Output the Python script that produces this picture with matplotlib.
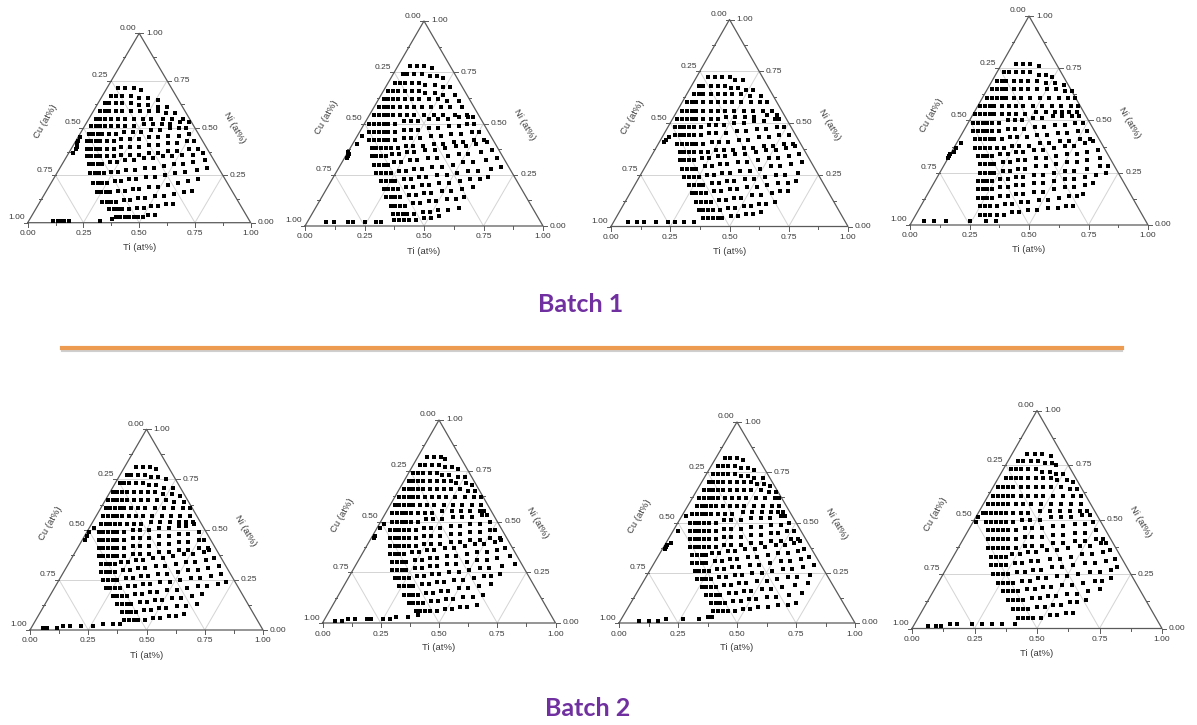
import numpy as np
import matplotlib.pyplot as plt
from matplotlib.lines import Line2D

plt.rcParams['font.family'] = ['Liberation Sans', 'DejaVu Sans']

# --- compositions (at%): rows of ([Ti ...], [Ni ...]),
# --- points sitting on the Cu-Ni edge and points along the Cu-Ti base, as (Ti, Ni)

p1_rows = [
    ([5, 8, 12, 16], [71, 71, 71, 70]),
    ([4, 6, 9, 13, 17, 21, 26], [67, 67, 67, 67, 66, 66, 65]),
    ([3, 5, 8, 11, 15, 19, 23, 28, 32], [63, 63, 63, 63, 63, 62, 62, 61, 61]),
    ([3, 5, 7, 10, 13, 17, 21, 25, 29, 33, 37], [59, 59, 59, 59, 59, 59, 59, 59, 59, 58, 58]),
    ([3, 5, 7, 10, 13, 16, 20, 24, 28, 33, 37, 42], [55, 55, 55, 55, 55, 55, 55, 55, 55, 55, 55, 55]),
    ([3, 5, 7, 9, 12, 15, 18, 22, 26, 30, 34, 38, 42, 46], [51, 51, 51, 51, 51, 51, 51, 51, 52, 52, 52, 52, 53, 53]),
    ([4, 6, 8, 10, 13, 16, 19, 23, 27, 31, 35, 39, 43, 46], [47, 47, 47, 47, 47, 47, 48, 48, 48, 49, 49, 50, 50, 50]),
    ([5, 7, 9, 11, 14, 17, 20, 24, 28, 32, 36, 40, 45, 49], [43, 43, 43, 43, 43, 43, 44, 44, 44, 45, 45, 46, 46, 47]),
    ([7, 9, 11, 13, 16, 19, 22, 26, 30, 34, 38, 42, 46, 50, 53], [39, 39, 39, 39, 39, 39, 40, 40, 40, 41, 41, 42, 42, 43, 43]),
    ([9, 11, 13, 15, 18, 21, 24, 28, 32, 36, 40, 44, 48, 53, 57], [35, 35, 35, 35, 35, 35, 36, 36, 36, 37, 37, 38, 38, 39, 39]),
    ([12, 14, 16, 18, 21, 24, 27, 31, 35, 39, 43, 47, 51, 56, 60], [31, 31, 31, 31, 32, 32, 33, 33, 34, 34, 35, 35, 36, 36, 37]),
    ([15, 17, 19, 21, 24, 27, 30, 34, 38, 42, 46, 50, 54, 58, 63], [26, 26, 26, 26, 27, 27, 28, 28, 29, 29, 30, 31, 31, 32, 33]),
    ([19, 21, 23, 25, 28, 31, 34, 37, 41, 45, 49, 53, 57, 62, 66], [21, 21, 21, 21, 22, 22, 23, 23, 24, 24, 25, 26, 27, 28, 29]),
    ([23, 25, 27, 29, 32, 35, 38, 41, 45, 49, 53, 57, 61, 65], [16, 16, 16, 16, 17, 17, 18, 18, 19, 19, 20, 21, 22, 23]),
    ([28, 30, 32, 34, 37, 40, 43, 46, 50, 54, 58, 62, 65], [11, 11, 11, 11, 12, 12, 13, 13, 14, 14, 15, 16, 17]),
    ([33, 35, 37, 39, 42, 45, 48, 51, 54, 57, 60], [7, 7, 7, 7, 7, 8, 8, 9, 9, 10, 10]),
    ([38, 40, 42, 44, 46, 48, 50, 52, 55], [3, 3, 3, 3, 3, 3, 3, 4, 4]),
]
p1_edge = [(2, 37), (2, 39), (2, 40), (1, 42), (1, 43), (1, 45)]
p1_base = [(11, 1), (13, 1), (15, 1), (16, 1), (18, 1), (32, 1), (37, 2)]

p2_rows = [
    ([5, 8, 11, 15], [78, 78, 78, 77]),
    ([4, 6, 9, 12, 16, 19, 22], [74, 74, 74, 74, 73, 73, 72]),
    ([3, 5, 7, 10, 13, 16, 20, 24, 27], [70, 70, 70, 70, 70, 69, 69, 68, 68]),
    ([2, 4, 6, 9, 12, 15, 18, 22, 26, 31], [66, 66, 66, 66, 66, 66, 65, 65, 64, 64]),
    ([2, 4, 6, 8, 11, 14, 17, 21, 25, 29, 34], [62, 62, 62, 62, 62, 62, 62, 62, 62, 61, 61]),
    ([2, 4, 6, 8, 11, 14, 17, 20, 24, 28, 32, 37], [58, 58, 58, 58, 58, 58, 58, 58, 58, 58, 58, 58]),
    ([2, 4, 6, 8, 10, 13, 16, 19, 23, 27, 31, 36, 41], [54, 54, 54, 54, 54, 54, 54, 54, 54, 54, 54, 54, 54]),
    ([2, 4, 6, 8, 10, 13, 16, 19, 22, 26, 30, 34, 38, 42, 44], [50, 50, 50, 50, 50, 50, 51, 51, 51, 52, 52, 52, 53, 53, 53]),
    ([4, 6, 8, 10, 12, 15, 18, 21, 24, 28, 32, 36, 40, 43, 46], [46, 46, 46, 46, 46, 46, 47, 47, 47, 48, 48, 49, 49, 50, 50]),
    ([6, 8, 10, 12, 14, 17, 20, 23, 27, 31, 35, 39, 43, 47, 50], [42, 42, 42, 42, 42, 42, 43, 43, 43, 44, 44, 45, 45, 46, 46]),
    ([9, 11, 13, 15, 17, 20, 23, 26, 30, 34, 38, 42, 46, 50, 54], [38, 38, 38, 38, 38, 38, 39, 39, 39, 40, 40, 41, 41, 42, 42]),
    ([11, 13, 15, 17, 19, 22, 25, 28, 32, 36, 40, 44, 48, 52, 56], [34, 34, 34, 34, 35, 35, 36, 36, 37, 37, 38, 39, 39, 40, 41]),
    ([14, 16, 18, 20, 22, 25, 28, 31, 35, 39, 43, 47, 51, 56, 60], [30, 30, 30, 30, 31, 31, 32, 32, 33, 33, 34, 35, 35, 36, 37]),
    ([17, 19, 21, 23, 26, 29, 32, 35, 39, 43, 47, 51, 55, 60, 64], [26, 26, 26, 26, 27, 27, 28, 28, 29, 29, 30, 31, 31, 32, 33]),
    ([21, 23, 25, 27, 30, 33, 36, 39, 43, 47, 51, 55, 59, 64, 68], [22, 22, 22, 22, 23, 23, 24, 24, 25, 25, 26, 27, 27, 28, 29]),
    ([24, 26, 28, 30, 33, 36, 39, 42, 46, 50, 54, 58, 62, 65], [18, 18, 18, 18, 19, 19, 20, 20, 21, 21, 22, 23, 23, 24]),
    ([27, 29, 31, 33, 36, 39, 42, 45, 49, 53, 57, 61], [14, 14, 14, 14, 15, 15, 16, 16, 17, 17, 18, 19]),
    ([31, 33, 35, 37, 40, 43, 46, 49, 53, 57, 60], [10, 10, 10, 10, 11, 11, 12, 12, 13, 13, 14]),
    ([34, 36, 38, 40, 43, 46, 49, 52, 56, 60], [6, 6, 6, 6, 6, 7, 7, 8, 8, 9]),
    ([36, 38, 40, 42, 45, 48, 51, 54], [3, 3, 3, 3, 3, 4, 4, 5]),
]
p2_edge = [(1, 33), (1, 34), (1, 35), (0, 36), (2, 40), (2, 44)]
p2_base = [(8, 2), (11, 2), (17, 2), (19, 2), (24, 2), (29, 2), (31, 2)]

p3_rows = [
    ([5, 8, 11, 14, 17, 20], [72, 72, 72, 72, 71, 71]),
    ([3, 5, 8, 11, 14, 17, 20, 24, 27], [68, 68, 68, 68, 68, 67, 67, 66, 66]),
    ([3, 5, 7, 10, 13, 16, 19, 23, 27, 32], [64, 64, 64, 64, 64, 64, 64, 64, 63, 63]),
    ([2, 4, 6, 9, 12, 15, 18, 21, 25, 29, 33, 36], [60, 60, 60, 60, 60, 60, 60, 60, 60, 60, 60, 60]),
    ([2, 4, 6, 8, 11, 14, 17, 20, 24, 28, 32, 36, 40], [56, 56, 56, 56, 56, 56, 56, 56, 56, 56, 56, 56, 56]),
    ([2, 4, 6, 8, 10, 13, 16, 19, 22, 26, 30, 34, 39, 43], [52, 52, 52, 52, 52, 52, 52, 52, 53, 53, 53, 53, 54, 54]),
    ([3, 5, 7, 9, 11, 14, 17, 20, 23, 27, 31, 35, 39, 43, 45], [48, 48, 48, 48, 48, 48, 49, 49, 49, 50, 50, 51, 51, 52, 52]),
    ([5, 7, 9, 11, 13, 16, 19, 22, 26, 30, 34, 38, 42, 46, 49], [44, 44, 44, 44, 44, 44, 45, 45, 45, 46, 46, 47, 47, 48, 48]),
    ([8, 10, 12, 14, 16, 19, 22, 25, 29, 33, 37, 41, 45, 49, 53], [40, 40, 40, 40, 40, 40, 41, 41, 41, 42, 42, 43, 43, 44, 44]),
    ([11, 13, 15, 17, 20, 23, 26, 29, 33, 37, 41, 45, 49, 53, 57], [36, 36, 36, 36, 36, 36, 37, 37, 37, 38, 38, 39, 39, 40, 40]),
    ([13, 15, 17, 19, 22, 25, 28, 31, 35, 39, 43, 47, 51, 55, 58], [32, 32, 32, 32, 33, 33, 34, 34, 35, 35, 36, 37, 37, 38, 39]),
    ([16, 18, 20, 22, 25, 28, 31, 34, 38, 42, 46, 50, 54, 58, 62], [28, 28, 28, 28, 29, 29, 30, 30, 31, 31, 32, 33, 33, 34, 35]),
    ([19, 21, 23, 25, 28, 31, 34, 37, 41, 45, 49, 53, 57, 61, 65], [24, 24, 24, 24, 25, 25, 26, 26, 27, 27, 28, 29, 29, 30, 31]),
    ([23, 25, 27, 29, 32, 35, 38, 41, 45, 49, 53, 57, 61, 66], [20, 20, 20, 20, 21, 21, 22, 22, 23, 23, 24, 25, 25, 26]),
    ([26, 28, 30, 32, 35, 38, 41, 44, 48, 52, 56, 60, 64, 67], [16, 16, 16, 16, 17, 17, 18, 18, 19, 19, 20, 21, 21, 22]),
    ([30, 32, 34, 36, 39, 42, 45, 48, 52, 56, 60, 63, 66], [12, 12, 12, 12, 13, 13, 14, 14, 15, 15, 16, 17, 17]),
    ([33, 35, 37, 39, 42, 45, 48, 51, 54, 57, 60, 63], [8, 8, 8, 8, 8, 9, 9, 10, 10, 11, 11, 12]),
    ([37, 39, 41, 43, 45, 48, 51, 54, 57, 60], [4, 4, 4, 4, 4, 5, 5, 6, 6, 7]),
]
p3_edge = [(2, 41), (2, 42), (3, 43)]
p3_base = [(6, 2), (10, 2), (13, 2), (18, 2), (23, 2), (26, 2), (30, 2), (34, 2)]

p4_rows = [
    ([6, 9, 12, 16], [77, 77, 77, 76]),
    ([3, 5, 8, 11, 14, 18, 21, 24], [73, 73, 73, 73, 73, 72, 72, 71]),
    ([2, 4, 6, 9, 12, 15, 19, 23, 27, 31], [69, 69, 69, 69, 69, 69, 69, 68, 68, 67]),
    ([2, 4, 6, 8, 11, 14, 17, 21, 25, 29, 33, 36], [65, 65, 65, 65, 65, 65, 65, 65, 65, 65, 64, 64]),
    ([2, 4, 6, 8, 10, 13, 16, 20, 24, 28, 32, 36, 39], [61, 61, 61, 61, 61, 61, 61, 61, 61, 61, 61, 61, 61]),
    ([1, 3, 5, 7, 10, 13, 16, 19, 23, 27, 31, 35, 39, 42], [57, 57, 57, 57, 57, 57, 57, 57, 57, 57, 57, 57, 57, 57]),
    ([1, 3, 5, 7, 9, 12, 15, 18, 22, 26, 30, 34, 37, 40, 43], [53, 53, 53, 53, 53, 53, 53, 53, 53, 54, 54, 54, 54, 54, 54]),
    ([2, 4, 6, 8, 10, 13, 16, 19, 22, 26, 30, 34, 38, 42, 45], [49, 49, 49, 49, 49, 49, 50, 50, 50, 51, 51, 52, 52, 52, 52]),
    ([4, 6, 8, 10, 12, 15, 18, 21, 25, 29, 33, 37, 41, 45, 48], [45, 45, 45, 45, 45, 45, 46, 46, 46, 47, 47, 48, 48, 49, 49]),
    ([7, 9, 11, 13, 15, 18, 21, 24, 28, 32, 36, 40, 44, 48, 52], [41, 41, 41, 41, 41, 41, 42, 42, 42, 43, 43, 44, 44, 45, 45]),
    ([9, 11, 13, 15, 18, 21, 24, 27, 31, 35, 39, 43, 47, 51, 55], [37, 37, 37, 37, 37, 37, 38, 38, 38, 39, 39, 40, 40, 41, 41]),
    ([12, 14, 16, 18, 21, 24, 27, 30, 34, 38, 42, 46, 50, 54, 57], [33, 33, 33, 33, 34, 34, 35, 35, 36, 36, 37, 38, 38, 39, 40]),
    ([15, 17, 19, 21, 24, 27, 30, 33, 37, 41, 45, 49, 53, 57, 61], [29, 29, 29, 29, 30, 30, 31, 31, 32, 32, 33, 34, 34, 35, 36]),
    ([17, 19, 21, 23, 26, 29, 32, 35, 39, 43, 47, 51, 55, 59, 64], [25, 25, 25, 25, 26, 26, 27, 27, 28, 28, 29, 30, 30, 31, 32]),
    ([18, 20, 22, 24, 27, 30, 33, 36, 40, 44, 48, 52, 56, 61, 66, 69], [21, 21, 21, 21, 22, 22, 23, 23, 24, 24, 25, 26, 26, 27, 28, 28]),
    ([20, 22, 24, 26, 29, 32, 35, 38, 42, 46, 50, 54, 58, 62, 66, 70], [17, 17, 17, 17, 18, 18, 19, 19, 20, 20, 21, 22, 22, 23, 24, 25]),
    ([22, 24, 26, 28, 31, 34, 37, 40, 44, 48, 52, 56, 60, 64, 67], [13, 13, 13, 13, 14, 14, 15, 15, 16, 16, 17, 18, 18, 19, 20]),
    ([25, 27, 29, 32, 35, 38, 41, 44, 48, 52, 56, 60, 63, 65], [9, 9, 9, 9, 10, 10, 11, 11, 12, 12, 13, 14, 14, 15]),
    ([27, 29, 31, 34, 37, 40, 43, 46, 50, 54, 58, 61, 64], [5, 5, 5, 5, 5, 6, 6, 7, 7, 8, 8, 9, 9]),
]
p4_edge = [(0, 32), (0, 33), (0, 34), (1, 35), (1, 37), (2, 39)]
p4_base = [(5, 2), (9, 2), (14, 2), (24, 2), (31, 2), (35, 2)]

p5_rows = [
    ([5, 8, 11, 14], [81, 81, 81, 80]),
    ([3, 5, 8, 11, 14, 17, 21], [77, 77, 77, 77, 76, 76, 75]),
    ([2, 4, 6, 9, 12, 15, 18, 22, 26], [73, 73, 73, 73, 73, 72, 72, 71, 71]),
    ([1, 3, 5, 7, 10, 13, 16, 19, 23, 27, 31], [69, 69, 69, 69, 69, 69, 69, 69, 68, 68, 67]),
    ([1, 3, 5, 7, 9, 12, 15, 18, 22, 26, 30, 34], [65, 65, 65, 65, 65, 65, 65, 65, 65, 65, 64, 64]),
    ([2, 4, 6, 8, 10, 13, 16, 19, 23, 27, 31, 35, 38], [61, 61, 61, 61, 61, 61, 61, 61, 61, 61, 61, 61, 61]),
    ([3, 5, 7, 9, 11, 14, 17, 20, 24, 28, 32, 36, 40], [57, 57, 57, 57, 57, 57, 57, 57, 57, 57, 57, 57, 57]),
    ([4, 6, 8, 10, 12, 15, 18, 21, 25, 29, 33, 37, 40, 43], [53, 53, 53, 53, 53, 53, 53, 53, 54, 54, 54, 54, 54, 54]),
    ([5, 7, 9, 11, 13, 16, 19, 22, 26, 30, 34, 38, 41, 44], [49, 49, 49, 49, 49, 49, 50, 50, 50, 51, 51, 52, 52, 53]),
    ([7, 9, 11, 13, 15, 18, 21, 24, 28, 32, 36, 40, 44, 48], [45, 45, 45, 45, 45, 45, 46, 46, 46, 47, 47, 48, 48, 49]),
    ([9, 11, 13, 15, 17, 20, 23, 26, 30, 34, 38, 42, 46, 50, 52], [41, 41, 41, 41, 41, 41, 42, 42, 42, 43, 43, 44, 44, 45, 45]),
    ([11, 13, 15, 17, 19, 22, 25, 28, 32, 36, 40, 44, 48, 52, 56], [37, 37, 37, 37, 37, 37, 38, 38, 38, 39, 39, 40, 40, 41, 41]),
    ([14, 16, 18, 20, 22, 25, 28, 31, 35, 39, 43, 47, 51, 55, 57], [33, 33, 33, 33, 34, 34, 35, 35, 36, 36, 37, 38, 38, 39, 40]),
    ([16, 18, 20, 22, 25, 28, 31, 34, 38, 42, 46, 50, 54, 58, 61], [29, 29, 29, 29, 30, 30, 31, 31, 32, 32, 33, 34, 34, 35, 36]),
    ([19, 21, 23, 25, 28, 31, 34, 37, 41, 45, 49, 53, 57, 61, 65], [25, 25, 25, 25, 26, 26, 27, 27, 28, 28, 29, 30, 30, 31, 32]),
    ([22, 24, 26, 28, 31, 34, 37, 40, 44, 48, 52, 56, 60, 64, 68], [21, 21, 21, 21, 22, 22, 23, 23, 24, 24, 25, 26, 26, 27, 28]),
    ([27, 29, 31, 33, 36, 39, 42, 45, 49, 53, 57, 61, 65, 69, 72], [17, 17, 17, 17, 18, 18, 19, 19, 20, 20, 21, 22, 22, 23, 24]),
    ([31, 33, 35, 37, 40, 43, 46, 49, 53, 57, 61, 65], [13, 13, 13, 13, 14, 14, 15, 15, 16, 16, 17, 18]),
    ([35, 37, 39, 41, 44, 47, 50, 53, 57, 61, 65], [9, 9, 9, 9, 10, 10, 11, 11, 12, 12, 13]),
    ([38, 40, 42, 44, 47, 50, 53, 56, 59, 62], [5, 5, 5, 5, 5, 6, 6, 7, 7, 8]),
]
p5_edge = [(1, 45), (1, 47), (1, 49), (2, 51)]
p5_base = [(5, 1), (7, 1), (11, 1), (13, 2), (16, 2), (21, 2), (26, 2), (30, 3), (34, 3), (37, 3)]

p6_rows = [
    ([4, 7, 10, 12], [82, 82, 82, 81]),
    ([3, 5, 8, 11, 14, 17, 20], [78, 78, 78, 78, 77, 77, 76]),
    ([2, 4, 6, 9, 12, 15, 18, 22, 25], [74, 74, 74, 74, 74, 73, 73, 72, 72]),
    ([2, 4, 6, 8, 11, 14, 17, 20, 23, 27, 30], [70, 70, 70, 70, 70, 70, 70, 70, 69, 69, 68]),
    ([2, 4, 6, 8, 10, 13, 16, 19, 22, 26, 30, 33], [66, 66, 66, 66, 66, 66, 66, 66, 66, 66, 65, 65]),
    ([2, 4, 6, 8, 10, 13, 16, 19, 22, 26, 30, 34, 37], [62, 62, 62, 62, 62, 62, 62, 62, 62, 62, 62, 62, 62]),
    ([2, 4, 6, 8, 10, 13, 16, 19, 23, 27, 31, 35, 39], [58, 58, 58, 58, 58, 58, 58, 58, 58, 58, 58, 58, 58]),
    ([3, 5, 7, 9, 11, 14, 17, 20, 24, 28, 32, 36, 40, 42], [54, 54, 54, 54, 54, 54, 54, 54, 55, 55, 55, 55, 55, 55]),
    ([5, 7, 9, 11, 13, 16, 19, 22, 26, 30, 34, 38, 42, 44], [50, 50, 50, 50, 50, 50, 51, 51, 51, 52, 52, 52, 53, 53]),
    ([6, 8, 10, 12, 14, 17, 20, 23, 27, 31, 35, 39, 43, 47], [46, 46, 46, 46, 46, 46, 47, 47, 47, 48, 48, 49, 49, 50]),
    ([8, 10, 12, 14, 16, 19, 22, 25, 29, 33, 37, 41, 45, 49, 51], [42, 42, 42, 42, 42, 42, 43, 43, 43, 44, 44, 45, 45, 46, 46]),
    ([10, 12, 14, 16, 18, 21, 24, 27, 31, 35, 39, 43, 47, 51, 55], [38, 38, 38, 38, 38, 38, 39, 39, 39, 40, 40, 41, 41, 42, 42]),
    ([12, 14, 16, 18, 21, 24, 27, 30, 34, 38, 42, 46, 50, 54, 56], [34, 34, 34, 34, 35, 35, 36, 36, 37, 37, 38, 39, 39, 40, 41]),
    ([15, 17, 19, 21, 24, 27, 30, 33, 37, 41, 45, 49, 53, 57, 60], [30, 30, 30, 30, 31, 31, 32, 32, 33, 33, 34, 35, 35, 36, 37]),
    ([17, 19, 21, 23, 26, 29, 32, 35, 39, 43, 47, 51, 55, 59, 64], [26, 26, 26, 26, 27, 27, 28, 28, 29, 29, 30, 31, 31, 32, 33]),
    ([20, 22, 24, 26, 29, 32, 35, 38, 42, 46, 50, 54, 58, 63, 68], [22, 22, 22, 22, 23, 23, 24, 24, 25, 25, 26, 27, 27, 28, 29]),
    ([24, 26, 28, 30, 33, 36, 39, 42, 46, 50, 54, 58, 61, 64], [18, 18, 18, 18, 19, 19, 20, 20, 21, 21, 22, 23, 23, 24]),
    ([28, 30, 32, 34, 37, 40, 43, 46, 50, 54, 58, 63], [14, 14, 14, 14, 15, 15, 16, 16, 17, 17, 18, 19]),
    ([32, 34, 36, 38, 41, 44, 47, 50, 54, 58, 62], [10, 10, 10, 10, 11, 11, 12, 12, 13, 13, 14]),
    ([37, 39, 41, 43, 46, 49, 52, 55, 58, 62], [6, 6, 6, 6, 6, 7, 7, 8, 8, 9]),
]
p6_edge = [(1, 42), (1, 43), (1, 47), (2, 49)]
p6_base = [(5, 1), (8, 1), (10, 2), (13, 2), (18, 2), (20, 2), (25, 2), (28, 2), (30, 3), (35, 3), (39, 4)]

p7_rows = [
    ([4, 6, 9, 12], [82, 82, 82, 81]),
    ([3, 5, 7, 10, 13, 16, 19], [78, 78, 78, 78, 77, 77, 76]),
    ([3, 5, 7, 9, 12, 15, 18, 21, 25], [74, 74, 74, 74, 74, 73, 73, 72, 72]),
    ([3, 5, 7, 9, 12, 15, 18, 21, 24, 27, 30], [70, 70, 70, 70, 70, 70, 70, 70, 69, 69, 68]),
    ([3, 5, 7, 9, 11, 14, 17, 20, 23, 27, 31, 34], [66, 66, 66, 66, 66, 66, 66, 66, 66, 66, 65, 65]),
    ([3, 5, 7, 9, 11, 14, 17, 20, 23, 27, 31, 35, 37], [62, 62, 62, 62, 62, 62, 62, 62, 62, 62, 62, 62, 62]),
    ([4, 6, 8, 10, 12, 15, 18, 21, 24, 28, 32, 36, 39], [58, 58, 58, 58, 58, 58, 58, 58, 58, 58, 58, 58, 58]),
    ([4, 6, 8, 10, 12, 15, 18, 21, 25, 29, 33, 37, 40, 42], [54, 54, 54, 54, 54, 54, 54, 54, 55, 55, 55, 55, 55, 55]),
    ([5, 7, 9, 11, 13, 16, 19, 22, 26, 30, 34, 38, 42, 44], [50, 50, 50, 50, 50, 50, 51, 51, 51, 52, 52, 52, 53, 53]),
    ([7, 9, 11, 13, 15, 18, 21, 24, 28, 32, 36, 40, 44, 47], [46, 46, 46, 46, 46, 46, 47, 47, 47, 48, 48, 49, 49, 50]),
    ([9, 11, 13, 15, 17, 20, 23, 26, 30, 34, 38, 42, 45, 48, 51], [42, 42, 42, 42, 42, 42, 43, 43, 43, 44, 44, 45, 45, 46, 46]),
    ([11, 13, 15, 17, 19, 22, 25, 28, 32, 36, 40, 44, 48, 52, 55], [38, 38, 38, 38, 38, 38, 39, 39, 39, 40, 40, 41, 41, 42, 42]),
    ([14, 16, 18, 20, 22, 25, 28, 31, 35, 39, 43, 47, 51, 54, 56], [34, 34, 34, 34, 35, 35, 36, 36, 37, 37, 38, 39, 39, 40, 41]),
    ([16, 18, 20, 22, 25, 28, 31, 34, 38, 42, 46, 50, 54, 58, 60], [30, 30, 30, 30, 31, 31, 32, 32, 33, 33, 34, 35, 35, 36, 37]),
    ([19, 21, 23, 25, 28, 31, 34, 37, 41, 45, 49, 53, 57, 61, 64], [26, 26, 26, 26, 27, 27, 28, 28, 29, 29, 30, 31, 31, 32, 33]),
    ([22, 24, 26, 28, 31, 34, 37, 40, 44, 48, 52, 56, 60, 64, 68], [22, 22, 22, 22, 23, 23, 24, 24, 25, 25, 26, 27, 27, 28, 29]),
    ([26, 28, 30, 32, 35, 38, 41, 44, 48, 52, 56, 60, 64, 69], [18, 18, 18, 18, 19, 19, 20, 20, 21, 21, 22, 23, 23, 24]),
    ([30, 32, 34, 36, 39, 42, 45, 48, 52, 56, 60, 65, 70], [14, 14, 14, 14, 15, 15, 16, 16, 17, 17, 18, 19, 20]),
    ([34, 36, 38, 40, 43, 46, 49, 52, 56, 60, 65, 70], [10, 10, 10, 10, 11, 11, 12, 12, 13, 13, 14, 15]),
    ([37, 39, 41, 43, 46, 49, 52, 55, 59, 63, 67, 70], [6, 6, 6, 6, 6, 7, 7, 8, 8, 9, 9, 10]),
]
p7_edge = [(1, 37), (1, 38), (1, 39), (2, 40), (2, 46), (2, 53)]
p7_base = [(8, 1), (12, 1), (16, 1), (19, 2), (26, 2), (33, 2), (36, 3), (38, 3)]

p8_rows = [
    ([6, 9, 12, 16], [80, 80, 80, 79]),
    ([4, 6, 9, 12, 15, 18, 20], [77, 77, 77, 77, 76, 76, 75]),
    ([3, 5, 7, 10, 13, 16, 19, 22, 25], [73, 73, 73, 73, 73, 72, 72, 71, 71]),
    ([3, 5, 7, 9, 12, 15, 18, 21, 24, 28, 31], [69, 69, 69, 69, 69, 69, 69, 69, 68, 68, 67]),
    ([2, 4, 6, 8, 11, 14, 17, 20, 23, 27, 31, 34], [65, 65, 65, 65, 65, 65, 65, 65, 65, 65, 64, 64]),
    ([2, 4, 6, 8, 10, 13, 16, 19, 22, 26, 30, 34, 37], [61, 61, 61, 61, 61, 61, 61, 61, 61, 61, 61, 61, 61]),
    ([2, 4, 6, 8, 10, 13, 16, 19, 23, 27, 31, 35, 39], [57, 57, 57, 57, 57, 57, 57, 57, 57, 57, 57, 57, 57]),
    ([3, 5, 7, 9, 11, 14, 17, 20, 24, 28, 32, 36, 40, 43], [53, 53, 53, 53, 53, 53, 53, 53, 54, 54, 54, 54, 54, 54]),
    ([5, 7, 9, 11, 13, 16, 19, 22, 26, 30, 34, 38, 42, 45], [49, 49, 49, 49, 49, 49, 50, 50, 50, 51, 51, 51, 52, 52]),
    ([8, 10, 12, 14, 16, 19, 22, 25, 29, 33, 37, 41, 45, 48], [45, 45, 45, 45, 45, 45, 46, 46, 46, 47, 47, 48, 48, 49]),
    ([10, 12, 14, 16, 18, 21, 24, 27, 31, 35, 39, 43, 47, 51], [41, 41, 41, 41, 41, 41, 42, 42, 42, 43, 43, 44, 44, 45]),
    ([12, 14, 16, 18, 20, 23, 26, 29, 33, 37, 41, 45, 49, 53, 56], [37, 37, 37, 37, 37, 37, 38, 38, 38, 39, 39, 40, 40, 41, 41]),
    ([15, 17, 19, 21, 23, 26, 29, 32, 36, 40, 44, 48, 52, 56, 58], [33, 33, 33, 33, 34, 34, 35, 35, 36, 36, 37, 38, 38, 39, 39]),
    ([17, 19, 21, 23, 26, 29, 32, 35, 39, 43, 47, 51, 55, 59, 61], [29, 29, 29, 29, 30, 30, 31, 31, 32, 32, 33, 34, 34, 35, 36]),
    ([20, 22, 24, 26, 29, 32, 35, 38, 42, 46, 50, 54, 58, 62, 65], [25, 25, 25, 25, 26, 26, 27, 27, 28, 28, 29, 30, 30, 31, 32]),
    ([24, 26, 28, 30, 33, 36, 39, 42, 46, 50, 54, 58, 62, 66, 68], [21, 21, 21, 21, 22, 22, 23, 23, 24, 24, 25, 26, 26, 27, 28]),
    ([28, 30, 32, 34, 37, 40, 43, 46, 50, 54, 58, 62, 65, 68], [17, 17, 17, 17, 18, 18, 19, 19, 20, 20, 21, 22, 22, 23]),
    ([32, 34, 36, 38, 41, 44, 47, 50, 54, 58, 62, 66], [13, 13, 13, 13, 14, 14, 15, 15, 16, 16, 17, 18]),
    ([36, 38, 40, 42, 45, 48, 51, 54, 57, 60, 63], [9, 9, 9, 9, 10, 10, 11, 11, 12, 12, 13]),
    ([40, 42, 44, 46, 49, 52, 55, 58, 61], [5, 5, 5, 5, 5, 6, 6, 7, 7]),
]
p8_edge = [(1, 49), (1, 51), (2, 53)]
p8_base = [(6, 1), (9, 1), (11, 1), (14, 2), (17, 2), (23, 2), (27, 2), (31, 2), (35, 2), (40, 2)]

tick_labels = ['0.00', '0.25', '0.50', '0.75', '1.00']
batch_titles = ['Batch 1', 'Batch 2']

# --- layout (pixels): bottom-left corner x, base y, side length, height of each triangle
W, H = 1197, 725
boxes = [
    (27.7, 222.7, 223, 189.4), (305, 226, 238, 205), (611, 226.5, 237, 207), (910, 225, 238, 209),
    (30, 630, 233, 200.7), (322.5, 623, 233, 203), (619, 623, 236, 201), (912, 628.5, 250, 218),
]
panels = [
    (p1_rows, p1_edge, p1_base), (p2_rows, p2_edge, p2_base),
    (p3_rows, p3_edge, p3_base), (p4_rows, p4_edge, p4_base),
    (p5_rows, p5_edge, p5_base), (p6_rows, p6_edge, p6_base),
    (p7_rows, p7_edge, p7_base), (p8_rows, p8_edge, p8_base),
]

fig = plt.figure(figsize=(W / 100, H / 100), dpi=100)

edge_col, grid_col, txt_col = '#5a5a5a', '#d4d4d4', '#3a3a3a'
fs_tick, fs_title = 6.0, 6.8


def ternary(box, rows, edge, base):
    x0, y0, side, h = box
    ax = fig.add_axes([x0 / W, 1 - y0 / H, side / W, h / H])
    ax.set_xlim(0, 1)
    ax.set_ylim(0, 1)
    ax.axis('off')
    px, py = 1 / side, 1 / h  # one pixel in data units

    # grid lines of constant Ni, Ti and Cu
    for v in (0.25, 0.5, 0.75):
        ax.plot([v / 2, 1 - v / 2], [v, v], color=grid_col, lw=0.7, zorder=1)
        ax.plot([v, v + (1 - v) / 2], [0, 1 - v], color=grid_col, lw=0.7, zorder=1)
        ax.plot([1 - v, (1 - v) / 2], [0, 1 - v], color=grid_col, lw=0.7, zorder=1)
    ax.plot([0, 1, 0.5, 0], [0, 0, 1, 0], color=edge_col, lw=0.9, zorder=2, clip_on=False)

    # ticks
    for k in range(9):
        v = k / 8
        ln = 4 if k % 2 == 0 else 2.5
        ax.plot([v, v], [0, -ln * py], color=edge_col, lw=0.7, clip_on=False)
        ax.plot([1 - v / 2, 1 - v / 2 + ln * px], [v, v], color=edge_col, lw=0.7, clip_on=False)
        ax.plot([v / 2, v / 2 - ln * px], [v, v], color=edge_col, lw=0.7, clip_on=False)

    # tick labels
    for k, lab in enumerate(tick_labels):
        v = k / 4
        ax.text(v, -11 * py, lab, fontsize=fs_tick, color=txt_col, ha='center', va='center')
        ax.text(1 - v / 2 + 7 * px, v, lab, fontsize=fs_tick, color=txt_col, ha='left', va='center')
        ax.text((1 - v) / 2 - 11 * px, (1 - v) + 5 * py, lab, fontsize=fs_tick, color=txt_col,
                ha='center', va='center')

    # axis titles
    ax.text(0.5, -25 * py, 'Ti (at%)', fontsize=fs_title, color=txt_col, ha='center', va='center')
    ax.text(0.22 - 31 * px, 0.44 + 18 * py, 'Cu (at%)', fontsize=fs_title, color=txt_col,
            ha='center', va='center', rotation=60)
    ax.text(1 - 0.205 + 30 * px, 0.41 + 17 * py, 'Ni (at%)', fontsize=fs_title, color=txt_col,
            ha='center', va='center', rotation=-60)

    # measured compositions
    ti = [t for tis, nis in rows for t in tis] + [p[0] for p in edge + base]
    ni = [n for tis, nis in rows for n in nis] + [p[1] for p in edge + base]
    ti = np.array(ti) / 100
    ni = np.array(ni) / 100
    ax.scatter(ti + ni / 2, ni, s=11, marker='s', c='black', linewidths=0, zorder=3, clip_on=False)


for box, (rows, edge, base) in zip(boxes, panels):
    ternary(box, rows, edge, base)

fig.text(580.7 / W, 1 - 304 / H, batch_titles[0], color='#7030A0', fontsize=18,
         fontweight='bold', family='Lato', ha='center', va='center')
fig.text(588 / W, 1 - 709 / H, batch_titles[1], color='#7030A0', fontsize=18,
         fontweight='bold', family='Lato', ha='center', va='center')

fig.add_artist(Line2D([62 / W, 1122 / W], [1 - 350.5 / H] * 2, color='#cfcfcf', lw=1.5))
fig.add_artist(Line2D([62 / W, 1122 / W], [1 - 348 / H] * 2, color='#EE9B52', lw=3))

fig.savefig('out.png', dpi=100)
